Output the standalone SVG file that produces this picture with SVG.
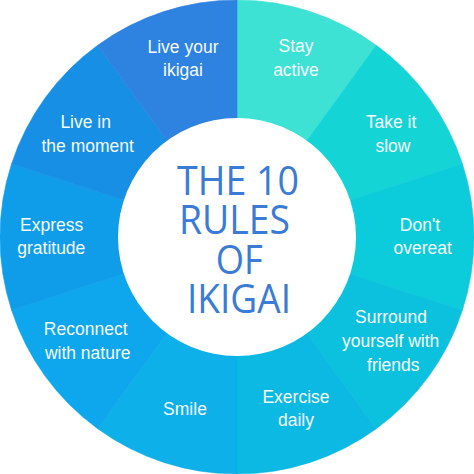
<svg xmlns="http://www.w3.org/2000/svg" width="474" height="474" viewBox="0 0 474 474">
<style>
.lbl{font-family:"Liberation Sans",Arial,sans-serif;font-size:17.5px;fill:#f4fcff;text-anchor:middle}
.ttl{font-family:"Open Sans","Noto Sans",sans-serif;font-size:40px;fill:#3a7bd6;text-anchor:middle}
</style>
<rect width="474" height="474" fill="#ffffff"/>
<g id="seg1"><path d="M237,237 L237,0 A237,237 0 0 1 376.30,45.26 Z" fill="#3ee2d4" stroke="#3ee2d4" stroke-width="0.6"/>
<text class="lbl" x="296" y="52.3">Stay</text><text class="lbl" x="296" y="76">active</text></g>
<g id="seg2"><path d="M237,237 L376.30,45.26 A237,237 0 0 1 462.40,163.76 Z" fill="#14d4d6" stroke="#14d4d6" stroke-width="0.6"/>
<text class="lbl" x="391" y="128.3">Take it</text><text class="lbl" x="393" y="151.7">slow</text></g>
<g id="seg3"><path d="M237,237 L462.40,163.76 A237,237 0 0 1 462.40,310.24 Z" fill="#0ccbda" stroke="#0ccbda" stroke-width="0.6"/>
<text class="lbl" x="420" y="231">Don't</text><text class="lbl" x="422.7" y="254.3">overeat</text></g>
<g id="seg4"><path d="M237,237 L462.40,310.24 A237,237 0 0 1 376.30,428.74 Z" fill="#0bc1de" stroke="#0bc1de" stroke-width="0.6"/>
<text class="lbl" x="391" y="323.3">Surround</text><text class="lbl" x="390.7" y="347.3">yourself with</text><text class="lbl" x="393.3" y="370.7">friends</text></g>
<g id="seg5"><path d="M237,237 L376.30,428.74 A237,237 0 0 1 237,474 Z" fill="#0cb9e3" stroke="#0cb9e3" stroke-width="0.6"/>
<text class="lbl" x="296" y="402.7">Exercise</text><text class="lbl" x="296" y="426">daily</text></g>
<g id="seg6"><path d="M237,237 L237,474 A237,237 0 0 1 97.70,428.74 Z" fill="#0eb0e9" stroke="#0eb0e9" stroke-width="0.6"/>
<text class="lbl" x="185" y="415">Smile</text></g>
<g id="seg7"><path d="M237,237 L97.70,428.74 A237,237 0 0 1 11.60,310.24 Z" fill="#0ea6ec" stroke="#0ea6ec" stroke-width="0.6"/>
<text class="lbl" x="85.7" y="335">Reconnect</text><text class="lbl" x="87.7" y="358.7">with nature</text></g>
<g id="seg8"><path d="M237,237 L11.60,310.24 A237,237 0 0 1 11.60,163.76 Z" fill="#0f9ce9" stroke="#0f9ce9" stroke-width="0.6"/>
<text class="lbl" x="51.7" y="231">Express</text><text class="lbl" x="51.3" y="254.3">gratitude</text></g>
<g id="seg9"><path d="M237,237 L11.60,163.76 A237,237 0 0 1 97.70,45.26 Z" fill="#168fe5" stroke="#168fe5" stroke-width="0.6"/>
<text class="lbl" x="85.7" y="128.3">Live in</text><text class="lbl" x="87.7" y="151.7">the moment</text></g>
<g id="seg10"><path d="M237,237 L97.70,45.26 A237,237 0 0 1 237,0 Z" fill="#2e82e0" stroke="#2e82e0" stroke-width="0.6"/>
<text class="lbl" x="183" y="52.5">Live your</text><text class="lbl" x="183" y="75.8">ikigai</text></g>
<g id="center"><circle cx="237" cy="237" r="119" fill="#ffffff"/>
<text class="ttl" x="238" y="195" textLength="122" lengthAdjust="spacingAndGlyphs">THE 10</text>
<text class="ttl" x="234.5" y="234" textLength="111" lengthAdjust="spacingAndGlyphs">RULES</text>
<text class="ttl" x="239.3" y="274" textLength="47" lengthAdjust="spacingAndGlyphs">OF</text>
<text class="ttl" x="239" y="313" textLength="104" lengthAdjust="spacingAndGlyphs">IKIGAI</text></g>
</svg>
